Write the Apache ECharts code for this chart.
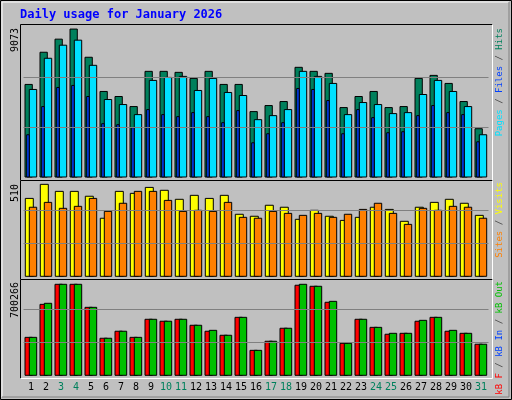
<!DOCTYPE html>
<html><head><meta charset="utf-8">
<script src="https://cdn.jsdelivr.net/npm/echarts@6/dist/echarts.min.js"></script>
<style>html,body{margin:0;padding:0;background:#c0c0c0}#c{width:512px;height:400px}</style>
</head><body><div id="c"></div>
<script>
const days = ['1','2','3','4','5','6','7','8','9','10','11','12','13','14','15','16','17','18','19','20','21','22','23','24','25','26','27','28','29','30','31'];
const weekend = [3,4,10,11,17,18,24,25,31];
const hits = [5678,7652,8455,9073,7344,5246,4937,4320,6480,6480,6418,6048,6480,5678,5678,4011,4382,4628,6727,6480,6357,4258,4937,5246,4258,4320,6048,6233,5739,4628,2962];
const pages = [5369,7282,8084,8393,6850,4752,4443,3826,5924,6109,6171,5307,6048,5184,4999,3517,3764,4135,6480,6171,5739,3826,4567,4443,3888,3949,5060,5924,5245,4320,2592];
const files = [2592,4320,5492,5616,4937,3271,3209,3024,4135,3826,3703,3949,3703,3332,4073,2098,2654,3332,5430,5369,4690,2654,4135,3641,2715,2777,3764,4382,3949,3826,2160];
const visits = [432,510,471,471,444,322,471,460,493,477,427,449,432,449,344,333,394,383,316,366,333,310,327,383,371,305,383,410,427,405,338];
const sites = [383,410,377,388,432,360,405,471,471,421,360,366,360,410,327,322,360,349,338,349,327,344,371,405,349,288,377,366,388,383,322];
const kbF = [292000,546000,700266,700266,523000,285000,339000,292000,431000,416000,431000,385000,339000,308000,446000,192000,262000,362000,693000,685000,562000,246000,431000,369000,316000,323000,416000,446000,339000,323000,239000];
const kbOut = [292000,554000,700266,700266,523000,285000,339000,292000,431000,416000,431000,385000,346000,308000,446000,192000,262000,362000,700266,685000,569000,246000,431000,369000,323000,323000,423000,446000,346000,323000,239000];
const maxLabels = ['9073','510','700266'];

const chart = echarts.init(document.getElementById('c'));
function barSeries(name, data, gi, x0, x1, color) {
  return {
    type: 'custom', name: name, xAxisIndex: gi, yAxisIndex: gi, data: data.map((v,i)=>[i,v]),
    renderItem: function(params, api) {
      const c = api.coord([api.value(0), api.value(1)]);
      const b = api.coord([api.value(0), 0]);
      return {type:'rect', shape:{x:c[0]+x0, y:c[1], width:x1-x0, height:b[1]-c[1]},
        style:{fill:color, stroke:'#000', lineWidth:1}};
    }
  };
}
function gridLines(gi, vals) {
  return {type:'line', xAxisIndex:gi, yAxisIndex:gi, data:[], silent:true,
    markLine:{symbol:'none', silent:true, label:{show:false}, lineStyle:{color:'#808080', type:'solid', width:1},
      data: vals.map(v=>({yAxis:v}))}};
}
const grids = [
  {left:23.5, width:465, top:27, height:150},
  {left:23.5, width:465, top:177.3, height:99},
  {left:23.5, width:465, top:276.3, height:99}
];
const maxes = [9200, 549, 761828];
const xAxes = grids.map((g,i)=>({type:'category', gridIndex:i, data:days, boundaryGap:true,
  axisLine:{show:false}, axisTick:{show:false},
  axisLabel:{show:i===2, interval:0, margin:7, fontFamily:'DejaVu Sans Mono', fontSize:10,
    color: function(v){return weekend.includes(+v)?'#00805c':'#000';}}}));
const yAxes = grids.map((g,i)=>({type:'value', gridIndex:i, min:0, max:maxes[i],
  axisLine:{show:false}, axisTick:{show:false}, axisLabel:{show:false}, splitLine:{show:false}}));

function frame(x0,y0,x1,y1){
  return [
    {type:'polyline', shape:{points:[[x0,y1],[x0,y0],[x1,y0]]}, style:{stroke:'#000', fill:null, lineWidth:1}},
    {type:'polyline', shape:{points:[[x1,y0],[x1,y1],[x0,y1]]}, style:{stroke:'#fff', fill:null, lineWidth:1}}
  ];
}
const F = '9px "DejaVu Sans Mono"';
function vtext(x, y, parts) {
  return {type:'text', x:x, y:y, rotation:Math.PI/2, z:10,
    style:{text:parts, rich:rich, align:'right', verticalAlign:'middle', font:F}};
}
const rich = {
  h:{fill:'#00805c', font:F}, f:{fill:'#0040ff', font:F},
  p:{fill:'#00e0ff', font:F}, s:{fill:'#404040', font:F},
  si:{fill:'#ff8000', font:F}, v:{fill:'#ffff00', font:F},
  r:{fill:'#ff0000', font:F}, g:{fill:'#00c000', font:F}
};
const graphics = [
  {type:'rect', shape:{x:0.5,y:0.5,width:511,height:399}, style:{fill:null, stroke:'#000', lineWidth:1}},
  {type:'polyline', shape:{points:[[2,397],[2,2],[509,2]]}, style:{stroke:'#fff', fill:null, lineWidth:1}},
  {type:'polyline', shape:{points:[[509,2],[509,397],[2,397]]}, style:{stroke:'#808080', fill:null, lineWidth:1}},
  ...frame(20.5,24.5,492.5,180.5), ...frame(20.5,180.5,492.5,279.5), ...frame(20.5,279.5,492.5,378.5),
  {type:'text', x:20, y:15, style:{text:'Daily usage for January 2026', fill:'#0000ff', font:'bold 12px "DejaVu Sans Mono"', verticalAlign:'middle'}},
  {type:'text', x:15, y:28, rotation:Math.PI/2, style:{text:maxLabels[0], fill:'#000', font:'10px "DejaVu Sans Mono"', align:'right', verticalAlign:'middle'}},
  {type:'text', x:15, y:184, rotation:Math.PI/2, style:{text:maxLabels[1], fill:'#000', font:'10px "DejaVu Sans Mono"', align:'right', verticalAlign:'middle'}},
  {type:'text', x:15, y:282, rotation:Math.PI/2, style:{text:maxLabels[2], fill:'#000', font:'10px "DejaVu Sans Mono"', align:'right', verticalAlign:'middle'}},
  vtext(500, 28, '{p|Pages} {s|/} {f|Files} {s|/} {h|Hits}'),
  vtext(500, 182, '{si|Sites} {s|/} {v|Visits}'),
  vtext(500, 281, '{r|kB F} {s|/} {f|kB In} {s|/} {g|kB Out}')
];

chart.setOption({
  animation:false, backgroundColor:'#c0c0c0',
  grid:grids, xAxis:xAxes, yAxis:yAxes,
  series:[
    gridLines(0,[3067,6133]), gridLines(1,[183,366]), gridLines(2,[253943,507886]),
    barSeries('Hits', hits, 0, -6, 1.3, '#00805c'),
    barSeries('Pages', pages, 0, -1.7, 5.7, '#00e0ff'),
    barSeries('Files', files, 0, -4.3, -1.8, '#0040ff'),
    barSeries('Visits', visits, 1, -5.7, 2.3, '#ffff00'),
    barSeries('Sites', sites, 1, -1.7, 5.7, '#ff8000'),
    barSeries('kB F', kbF, 2, -6, 1.3, '#ff0000'),
    barSeries('kB Out', kbOut, 2, -1.7, 5.7, '#00c000')
  ],
  graphic:{elements:graphics}
});
</script></body></html>
